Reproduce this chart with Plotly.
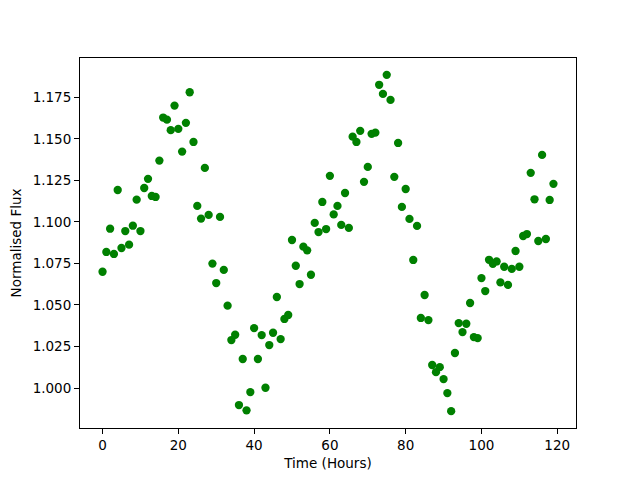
import plotly.graph_objects as go

hours = list(range(120))
flux = [
    1.0700, 1.0819, 1.0959, 1.0807, 1.1192, 1.0843, 1.0945, 1.0863, 1.0977, 1.1134,
    1.0945, 1.1204, 1.1259, 1.1156, 1.1150, 1.1369, 1.1628, 1.1615, 1.1552, 1.1700,
    1.1560, 1.1423, 1.1596, 1.1780, 1.1481, 1.1096, 1.1020, 1.1325, 1.1042, 1.0749,
    1.0632, 1.1030, 1.0711, 1.0496, 1.0289, 1.0321, 0.9898, 1.0175, 0.9866, 0.9976,
    1.0361, 1.0175, 1.0319, 1.0002, 1.0259, 1.0333, 1.0548, 1.0295, 1.0416, 1.0440,
    1.0891, 1.0736, 1.0626, 1.0851, 1.0829, 1.0682, 1.0994, 1.0939, 1.1120, 1.0957,
    1.1277, 1.1045, 1.1096, 1.0982, 1.1174, 1.0964, 1.1513, 1.1481, 1.1548, 1.1241,
    1.1331, 1.1530, 1.1537, 1.1825, 1.1770, 1.1885, 1.1734, 1.1271, 1.1475, 1.1090,
    1.1198, 1.1018, 1.0771, 1.0976, 1.0422, 1.0560, 1.0409, 1.0139, 1.0096, 1.0126,
    1.0054, 0.9970, 0.9861, 1.0211, 1.0391, 1.0337, 1.0387, 1.0512, 1.0307, 1.0301,
    1.0662, 1.0584, 1.0772, 1.0748, 1.0762, 1.0636, 1.0730, 1.0621, 1.0717, 1.0825,
    1.0730, 1.0915, 1.0927, 1.1295, 1.1136, 1.0885, 1.1403, 1.0897, 1.1132, 1.1229,
]

x_title = "Time (Hours)"
y_title = "Normalised Flux"

fig = go.Figure(go.Scatter(
    x=hours, y=flux, mode="markers",
    marker=dict(color="#008000", size=8.3, line=dict(width=0)),
))

font = dict(family="DejaVu Sans", size=13.5, color="black")
xmin, xmax = min(hours), max(hours)
ymin, ymax = min(flux), max(flux)
xm = (xmax - xmin) * 0.05
ym = (ymax - ymin) * 0.05

axis_common = dict(
    showline=True, linecolor="black", linewidth=1, mirror=True,
    ticks="outside", ticklen=5, tickwidth=1, tickcolor="black",
    showgrid=False, zeroline=False, tickfont=font, automargin=False,
)

# page body has an 8px margin, so the figure is shrunk by 8px
fig.update_layout(
    width=632, height=472,
    margin=dict(l=72, r=64, t=50, b=52),
    paper_bgcolor="white", plot_bgcolor="white",
    showlegend=False,
    font=font,
    xaxis=dict(range=[xmin - xm, xmax + xm], dtick=20, tick0=0,
               title=dict(text=x_title, font=font, standoff=6), **axis_common),
    yaxis=dict(range=[ymin - ym, ymax + ym], dtick=0.025, tick0=1.0, tickformat=".3f",
               title=dict(text=y_title, font=font, standoff=8), **axis_common),
)

fig.write_html("out.html")
